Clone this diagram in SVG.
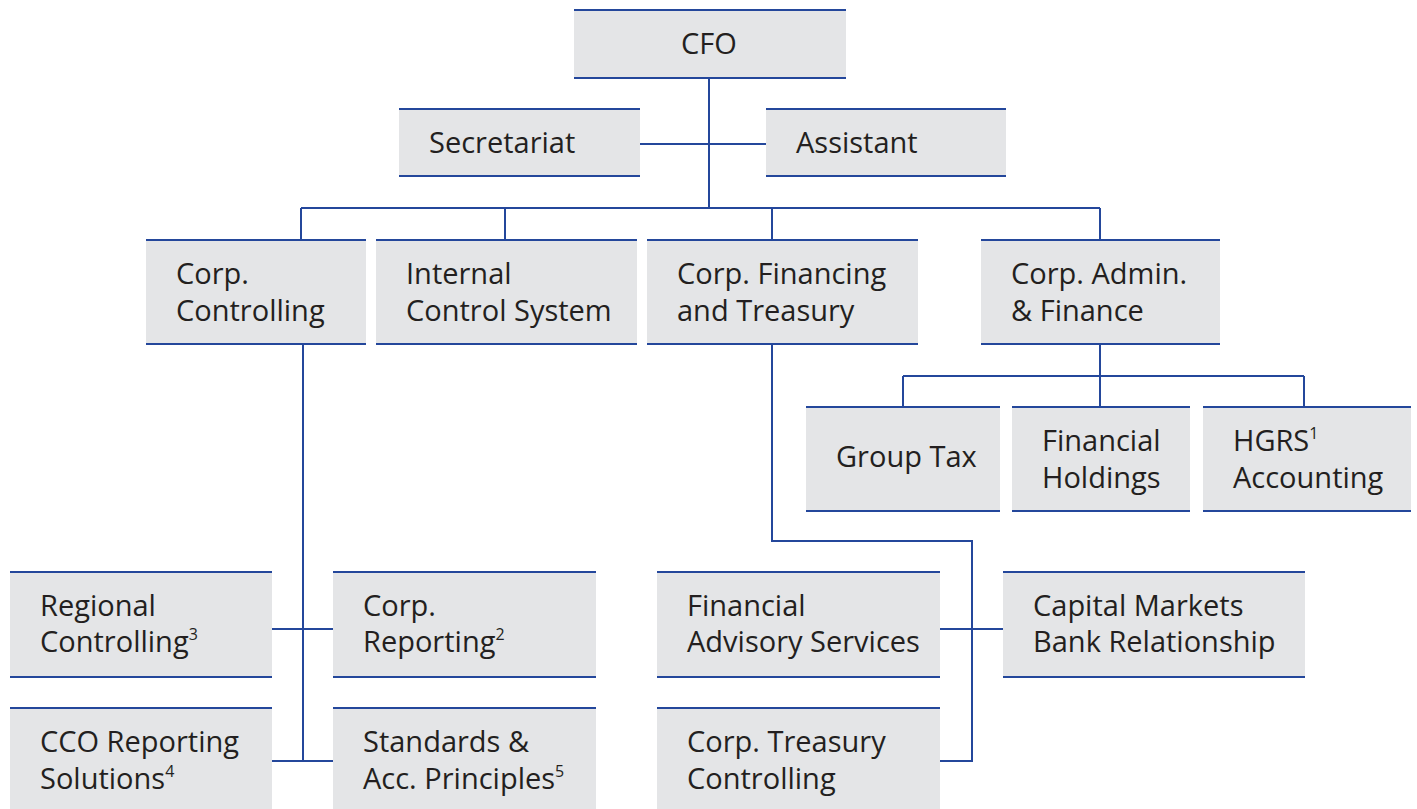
<svg xmlns="http://www.w3.org/2000/svg" width="1417" height="809" viewBox="0 0 1417 809">
<style>
.b{fill:#e4e5e7}
.e{stroke:#24479b;stroke-width:2;fill:none}
.t{font-family:"Open Sans","Noto Sans","Liberation Sans",sans-serif;font-size:29px;fill:#231f20}
.s{font-size:16px}
</style>
<rect width="1417" height="809" fill="#fff"/>
<g id="connectors" class="e">
<path d="M709 78V208M640 144H766M301 208H1100M301 208V240M505 208V240M772 208V240M1100 208V240"/>
<path d="M1100 344V376M903 376H1304M903 376V407M1100 376V407M1304 376V407"/>
<path d="M303 344V761M272 629H333M272 761H333"/>
<path d="M772 344V541H972V761H940M940 629H1003"/>
</g>
<g id="cfo"><rect class="b" x="574" y="10" width="272" height="68"/><path class="e" d="M574 10H846M574 78H846"/><text class="t" x="709" y="54" text-anchor="middle">CFO</text></g>
<g id="secretariat"><rect class="b" x="399" y="109" width="241" height="67"/><path class="e" d="M399 109H640M399 176H640"/><text class="t" x="429" y="153">Secretariat</text></g>
<g id="assistant"><rect class="b" x="766" y="109" width="240" height="67"/><path class="e" d="M766 109H1006M766 176H1006"/><text class="t" x="796" y="153">Assistant</text></g>
<g id="corp-controlling"><rect class="b" x="146" y="240" width="220" height="104"/><path class="e" d="M146 240H366M146 344H366"/><text class="t" x="176" y="284">Corp.<tspan x="176" y="321">Controlling</tspan></text></g>
<g id="internal-control"><rect class="b" x="376" y="240" width="261" height="104"/><path class="e" d="M376 240H637M376 344H637"/><text class="t" x="406" y="284">Internal<tspan x="406" y="321">Control System</tspan></text></g>
<g id="corp-financing"><rect class="b" x="647" y="240" width="271" height="104"/><path class="e" d="M647 240H918M647 344H918"/><text class="t" x="677" y="284">Corp. Financing<tspan x="677" y="321">and Treasury</tspan></text></g>
<g id="corp-admin"><rect class="b" x="981" y="240" width="239" height="104"/><path class="e" d="M981 240H1220M981 344H1220"/><text class="t" x="1011" y="284">Corp. Admin.<tspan x="1011" y="321">&amp; Finance</tspan></text></g>
<g id="group-tax"><rect class="b" x="806" y="407" width="194" height="104"/><path class="e" d="M806 407H1000M806 511H1000"/><text class="t" x="836" y="467">Group Tax</text></g>
<g id="financial-holdings"><rect class="b" x="1012" y="407" width="178" height="104"/><path class="e" d="M1012 407H1190M1012 511H1190"/><text class="t" x="1042" y="451">Financial<tspan x="1042" y="488">Holdings</tspan></text></g>
<g id="hgrs"><rect class="b" x="1203" y="407" width="208" height="104"/><path class="e" d="M1203 407H1411M1203 511H1411"/><text class="t" x="1233" y="451">HGRS<tspan class="s" dy="-12">1</tspan><tspan x="1233" y="488">Accounting</tspan></text></g>
<g id="regional-controlling"><rect class="b" x="10" y="572" width="262" height="105"/><path class="e" d="M10 572H272M10 677H272"/><text class="t" x="40" y="616">Regional<tspan x="40" y="652">Controlling</tspan><tspan class="s" dy="-12">3</tspan></text></g>
<g id="corp-reporting"><rect class="b" x="333" y="572" width="263" height="105"/><path class="e" d="M333 572H596M333 677H596"/><text class="t" x="363" y="616">Corp.<tspan x="363" y="652">Reporting</tspan><tspan class="s" dy="-12">2</tspan></text></g>
<g id="cco-reporting"><rect class="b" x="10" y="708" width="262" height="104"/><path class="e" d="M10 708H272"/><text class="t" x="40" y="752">CCO Reporting<tspan x="40" y="789">Solutions</tspan><tspan class="s" dy="-12">4</tspan></text></g>
<g id="standards"><rect class="b" x="333" y="708" width="263" height="104"/><path class="e" d="M333 708H596"/><text class="t" x="363" y="752">Standards &amp;<tspan x="363" y="789">Acc. Principles</tspan><tspan class="s" dy="-12">5</tspan></text></g>
<g id="financial-advisory"><rect class="b" x="657" y="572" width="283" height="105"/><path class="e" d="M657 572H940M657 677H940"/><text class="t" x="687" y="616">Financial<tspan x="687" y="652">Advisory Services</tspan></text></g>
<g id="capital-markets"><rect class="b" x="1003" y="572" width="302" height="105"/><path class="e" d="M1003 572H1305M1003 677H1305"/><text class="t" x="1033" y="616">Capital Markets<tspan x="1033" y="652">Bank Relationship</tspan></text></g>
<g id="treasury-controlling"><rect class="b" x="657" y="708" width="283" height="104"/><path class="e" d="M657 708H940"/><text class="t" x="687" y="752">Corp. Treasury<tspan x="687" y="789">Controlling</tspan></text></g>
</svg>
